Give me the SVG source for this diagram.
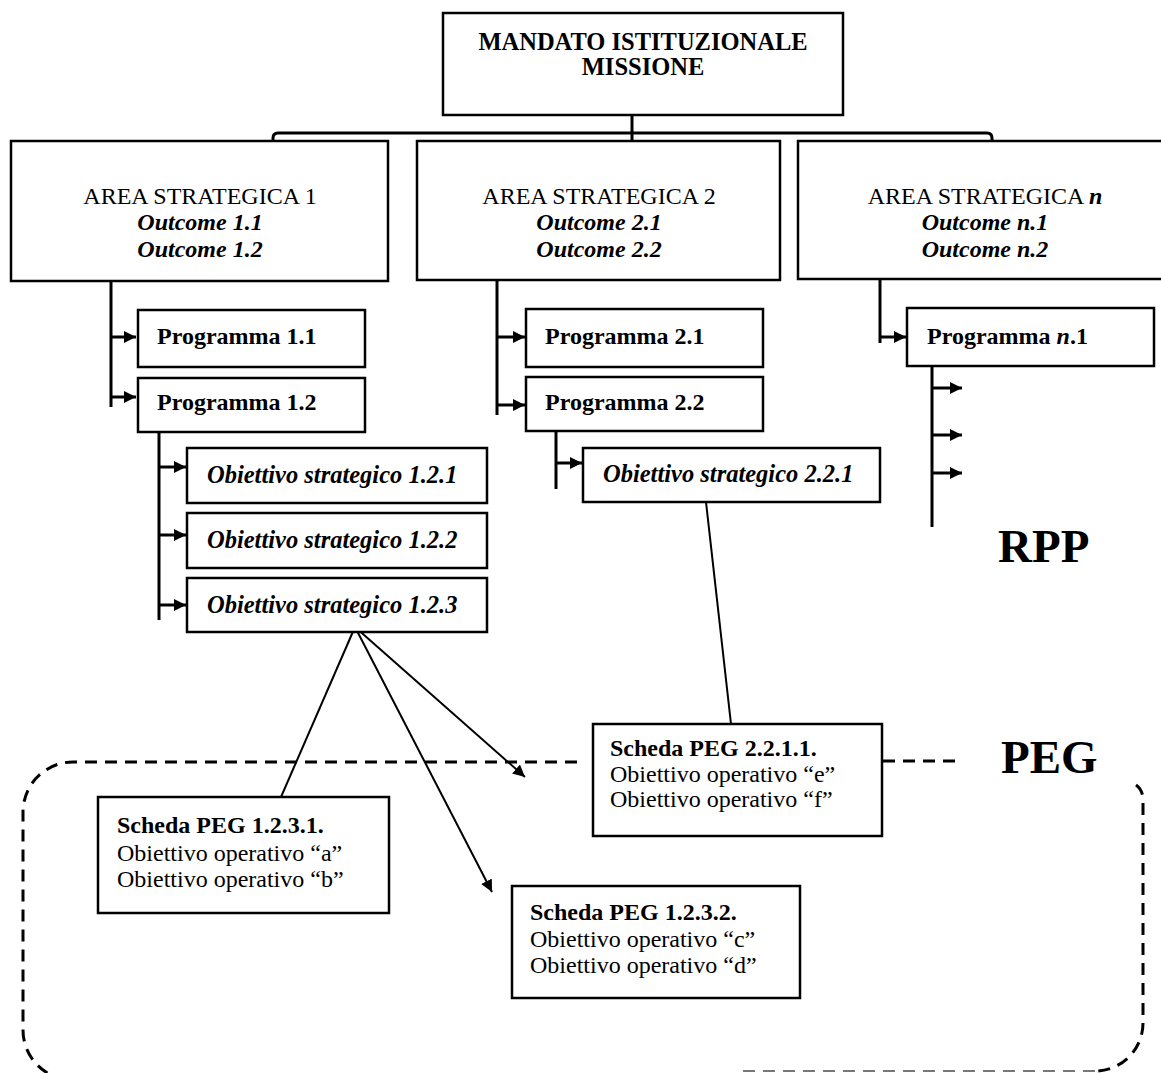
<svg xmlns="http://www.w3.org/2000/svg" width="1161" height="1073" viewBox="0 0 1161 1073">
  <style>
    .box { fill: #fff; stroke: #000; stroke-width: 2.5; }
    .t { font-family: "Liberation Serif", "Times New Roman", serif; fill: #000; font-size: 24px; }
    .b { font-weight: bold; }
    .i { font-style: italic; }
    .bi { font-weight: bold; font-style: italic; }
    .obj { font-size: 24.5px; }
    .mid { text-anchor: middle; }
    .big { font-size: 47px; font-weight: bold; }
    .wire { fill: none; stroke: #000; stroke-width: 3; }
    .thin { fill: none; stroke: #000; stroke-width: 2; }
    .dash { fill: none; stroke: #000; stroke-width: 3; stroke-dasharray: 12 8; }
    .dash-light { fill: none; stroke: #777; stroke-width: 2; stroke-dasharray: 12 8; }
  </style>
  <defs>
    <marker id="arrow" markerUnits="userSpaceOnUse" markerWidth="13" markerHeight="12" refX="12" refY="6" orient="auto">
      <path d="M0,0 L12,6 L0,12 z" fill="#000"/>
    </marker>
  </defs>
  <rect width="1161" height="1073" fill="#fff"/>

  <!-- PEG boundary (dashed, rounded) -->
  <g id="peg-boundary">
    <path class="dash" d="M577,762 H73 A50,50 0 0 0 23,812 V1030 A50,50 0 0 0 73,1080"/>
    <path class="dash" d="M803,761 H962"/>
    <path class="dash" d="M1136,785 Q1143,790 1143,800 V1023 A48,48 0 0 1 1095,1071"/>
    <path class="dash-light" d="M1095,1071 H740"/>
  </g>

  <!-- connectors -->
  <g id="connectors">
    <path class="wire" d="M632,108 V147"/>
    <path class="wire" d="M273,141 V138 Q273,133 278,133 H987 Q992,133 992,138 V141"/>

    <path class="wire" d="M111,270 V407"/>
    <path class="wire" d="M111,337 H136" marker-end="url(#arrow)"/>
    <path class="wire" d="M111,397 H136" marker-end="url(#arrow)"/>

    <path class="wire" d="M497,270 V415"/>
    <path class="wire" d="M497,337 H525" marker-end="url(#arrow)"/>
    <path class="wire" d="M497,405 H525" marker-end="url(#arrow)"/>

    <path class="wire" d="M880,270 V343"/>
    <path class="wire" d="M880,337 H906" marker-end="url(#arrow)"/>

    <path class="wire" d="M159,425 V620"/>
    <path class="wire" d="M159,467 H186" marker-end="url(#arrow)"/>
    <path class="wire" d="M159,535 H186" marker-end="url(#arrow)"/>
    <path class="wire" d="M159,605 H186" marker-end="url(#arrow)"/>

    <path class="wire" d="M556,425 V489"/>
    <path class="wire" d="M556,463 H582" marker-end="url(#arrow)"/>

    <path class="wire" d="M932,360 V527"/>
    <path class="wire" d="M932,388 H962" marker-end="url(#arrow)"/>
    <path class="wire" d="M932,435 H962" marker-end="url(#arrow)"/>
    <path class="wire" d="M932,473 H962" marker-end="url(#arrow)"/>

    <path class="thin" d="M355,627 L281,797"/>
    <path class="thin" d="M355,627 L525,777" marker-end="url(#arrow)"/>
    <path class="thin" d="M355,627 L492,892" marker-end="url(#arrow)"/>
    <path class="thin" d="M706,502 L731,724"/>
  </g>

  <g id="mandato">
    <rect class="box" x="443" y="13" width="400" height="102"/>
    <text class="t b mid obj" x="643" y="50">MANDATO ISTITUZIONALE</text>
    <text class="t b mid obj" x="643" y="75">MISSIONE</text>
  </g>

  <g id="area-1">
    <rect class="box" x="11" y="141" width="377" height="140"/>
    <text class="t mid" x="200" y="204">AREA STRATEGICA 1</text>
    <text class="t bi mid" x="200" y="230">Outcome 1.1</text>
    <text class="t bi mid" x="200" y="257">Outcome 1.2</text>
  </g>
  <g id="area-2">
    <rect class="box" x="417" y="141" width="363" height="139"/>
    <text class="t mid" x="599" y="204">AREA STRATEGICA 2</text>
    <text class="t bi mid" x="599" y="230">Outcome 2.1</text>
    <text class="t bi mid" x="599" y="257">Outcome 2.2</text>
  </g>
  <g id="area-n">
    <rect class="box" x="798" y="141" width="380" height="138"/>
    <text class="t mid" x="985" y="204">AREA STRATEGICA <tspan class="bi">n</tspan></text>
    <text class="t bi mid" x="985" y="230">Outcome n.1</text>
    <text class="t bi mid" x="985" y="257">Outcome n.2</text>
  </g>

  <g id="programma-1-1">
    <rect class="box" x="138" y="310" width="227" height="57"/>
    <text class="t b" x="157" y="344">Programma 1.1</text>
  </g>
  <g id="programma-1-2">
    <rect class="box" x="138" y="378" width="227" height="54"/>
    <text class="t b" x="157" y="410">Programma 1.2</text>
  </g>
  <g id="programma-2-1">
    <rect class="box" x="526" y="309" width="237" height="58"/>
    <text class="t b" x="545" y="344">Programma 2.1</text>
  </g>
  <g id="programma-2-2">
    <rect class="box" x="526" y="377" width="237" height="54"/>
    <text class="t b" x="545" y="410">Programma 2.2</text>
  </g>
  <g id="programma-n-1">
    <rect class="box" x="907" y="308" width="247" height="58"/>
    <text class="t b" x="927" y="344">Programma <tspan class="bi">n</tspan>.1</text>
  </g>

  <g id="obiettivo-1-2-1">
    <rect class="box" x="187" y="448" width="300" height="55"/>
    <text class="t bi obj" x="207" y="483">Obiettivo strategico 1.2.1</text>
  </g>
  <g id="obiettivo-1-2-2">
    <rect class="box" x="187" y="513" width="300" height="55"/>
    <text class="t bi obj" x="207" y="548">Obiettivo strategico 1.2.2</text>
  </g>
  <g id="obiettivo-1-2-3">
    <rect class="box" x="187" y="578" width="300" height="54"/>
    <text class="t bi obj" x="207" y="613">Obiettivo strategico 1.2.3</text>
  </g>
  <g id="obiettivo-2-2-1">
    <rect class="box" x="583" y="448" width="297" height="54"/>
    <text class="t bi obj" x="603" y="482">Obiettivo strategico 2.2.1</text>
  </g>

  <g id="scheda-1-2-3-1">
    <rect class="box" x="98" y="797" width="291" height="116"/>
    <text class="t b" x="117" y="833">Scheda PEG 1.2.3.1.</text>
    <text class="t" x="117" y="861">Obiettivo operativo “a”</text>
    <text class="t" x="117" y="887">Obiettivo operativo “b”</text>
  </g>
  <g id="scheda-2-2-1-1">
    <rect class="box" x="593" y="724" width="289" height="112"/>
    <text class="t b" x="610" y="756">Scheda PEG 2.2.1.1.</text>
    <text class="t" x="610" y="782">Obiettivo operativo “e”</text>
    <text class="t" x="610" y="807">Obiettivo operativo “f”</text>
  </g>
  <g id="scheda-1-2-3-2">
    <rect class="box" x="512" y="886" width="288" height="112"/>
    <text class="t b" x="530" y="920">Scheda PEG 1.2.3.2.</text>
    <text class="t" x="530" y="947">Obiettivo operativo “c”</text>
    <text class="t" x="530" y="973">Obiettivo operativo “d”</text>
  </g>

  <g id="label-rpp">
    <text class="t big" x="998" y="562">RPP</text>
  </g>
  <g id="label-peg">
    <text class="t big" x="1001" y="773">PEG</text>
  </g>
</svg>
